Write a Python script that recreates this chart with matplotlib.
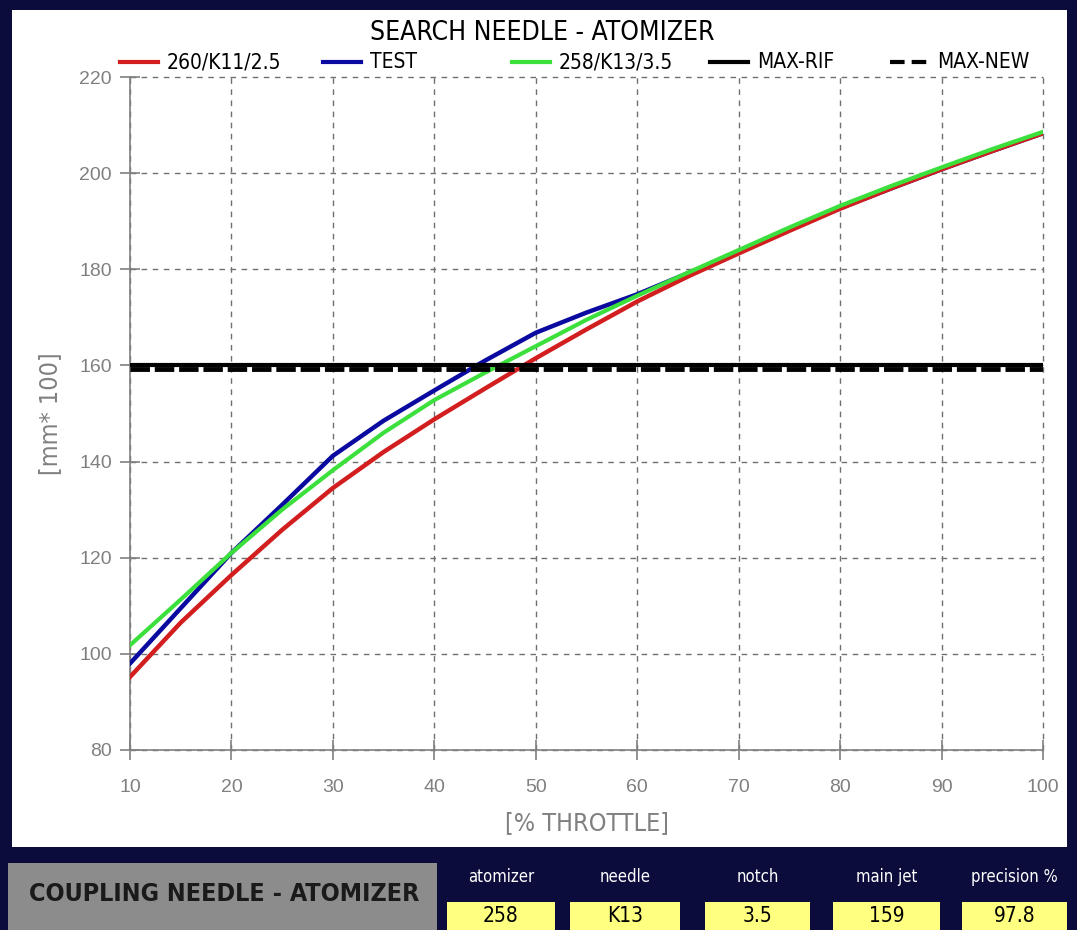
import matplotlib
matplotlib.use("Agg")
import matplotlib.pyplot as plt
from matplotlib.lines import Line2D
from matplotlib.patches import Rectangle

# --- data --------------------------------------------------------------------
throttle = [10, 15, 20, 25, 30, 35, 40, 45, 50, 55, 60, 65, 70, 75, 80, 85, 90, 95, 100]
ref_260 = [95.2, 106.5, 116.4, 125.8, 134.5, 142.0, 148.8, 155.2, 161.5, 167.5,
           173.3, 178.5, 183.3, 188.0, 192.6, 196.8, 200.8, 204.6, 208.3]
test = [98.0, 109.5, 121.0, 131.0, 141.2, 148.5, 154.8, 161.0, 166.8, 171.0,
        174.8, 179.2, 183.5, 188.2, 192.7, 196.8, 200.8, 204.6, 208.3]
new_258 = [101.8, 111.3, 121.0, 130.0, 138.2, 146.0, 152.8, 158.5, 164.0, 169.5,
           174.5, 179.3, 184.0, 188.7, 193.2, 197.3, 201.2, 205.0, 208.6]
max_rif = 160.0
max_new = 159.2

series_labels = ["260/K11/2.5", "TEST", "258/K13/3.5", "MAX-RIF", "MAX-NEW"]
table_heads = ["atomizer", "needle", "notch", "main jet", "precision %"]
table_vals = ["258", "K13", "3.5", "159", "97.8"]

xticks = list(range(10, 101, 10))
yticks = list(range(80, 221, 20))

# --- styling -----------------------------------------------------------------
NAVY = "#0b0b3c"
GRAY = "#808080"
RED, BLUE, GREEN = "#d21e1e", "#0a0aa0", "#3ce03c"
plt.rcParams["font.family"] = ["Liberation Sans", "DejaVu Sans"]
NARROW = dict(family="DejaVu Sans", fontstretch="condensed")

W, H = 1077, 930
fig = plt.figure(figsize=(W / 100, H / 100), dpi=100, facecolor=NAVY)

def fx(px): return px / W
def fy(py): return 1 - py / H

# white panel
fig.add_artist(Rectangle((fx(12), fy(847)), fx(1067) - fx(12), fy(10) - fy(847),
                         transform=fig.transFigure, facecolor="white",
                         edgecolor="none", zorder=0))

ax = fig.add_axes([fx(130), fy(750), fx(1043) - fx(130), fy(77) - fy(750)])
ax.set_facecolor("none")

ax.plot(throttle, ref_260, color=RED, lw=3.2, zorder=4)
ax.plot(throttle, test, color=BLUE, lw=3.2, zorder=3)
ax.plot(throttle, new_258, color=GREEN, lw=3.0, zorder=5)
ax.axhline(max_rif, color="black", lw=3.0, zorder=6)
ax.axhline(max_new, color="black", lw=3.5, ls=(0, (4, 1.0)), zorder=6)

ax.set_xlim(10, 100)
ax.set_ylim(80, 220)
ax.set_xticks(xticks)
ax.set_yticks(yticks)
ax.grid(True, color="#707070", ls=(0, (4, 4)), lw=1.0)
ax.set_axisbelow(True)
for g in ax.xaxis.get_gridlines() + ax.yaxis.get_gridlines():
    g.set_clip_on(False)
for s in ("top", "right"):
    ax.spines[s].set_visible(False)
for s in ("left", "bottom"):
    ax.spines[s].set_color(GRAY)
    ax.spines[s].set_linewidth(1.2)
    ax.spines[s].set_zorder(2.5)
ax.tick_params(direction="inout", length=14, color=GRAY, width=1.2,
               labelcolor=GRAY, labelsize=14)
ax.tick_params(axis="x", pad=14)
ax.tick_params(axis="y", pad=6)
ax.set_xlabel("[% THROTTLE]", color=GRAY, fontsize=18, labelpad=11, **NARROW)
ax.set_ylabel("[mm* 100]", color=GRAY, fontsize=18, labelpad=12, **NARROW)

# title
fig.text(fx(542), fy(33), "SEARCH NEEDLE - ATOMIZER", ha="center", va="center",
         fontsize=19, color="black", **NARROW)

# legend row
leg = [(120, RED, "-"), (323, BLUE, "-"), (512, GREEN, "-"),
       (710, "black", "-"), (890, "black", (0, (3.5, 1.7)))]
for (x0, col, ls), lab in zip(leg, series_labels):
    fig.add_artist(Line2D([fx(x0), fx(x0 + 38)], [fy(62), fy(62)],
                          transform=fig.transFigure, color=col, lw=3, ls=ls))
    fig.text(fx(x0 + 47), fy(62), lab, ha="left", va="center", fontsize=15,
             color="black", **NARROW)

# bottom strip
fig.add_artist(Rectangle((fx(8), fy(930)), fx(437) - fx(8), fy(863) - fy(930),
                         transform=fig.transFigure, facecolor="#8c8c8c",
                         edgecolor="none"))
fig.text(fx(224), fy(894), "COUPLING NEEDLE - ATOMIZER", ha="center",
         va="center", fontsize=18, fontweight="bold", color="#1a1a1a", **NARROW)

boxes = [(447, 555), (570, 680), (705, 810), (833, 940), (962, 1067)]
for (x0, x1), head, val in zip(boxes, table_heads, table_vals):
    xc = (x0 + x1) / 2
    fig.text(fx(xc), fy(877), head, ha="center", va="center", fontsize=12,
             color="white", **NARROW)
    fig.add_artist(Rectangle((fx(x0), fy(930)), fx(x1) - fx(x0), fy(902) - fy(930),
                             transform=fig.transFigure, facecolor="#ffff80",
                             edgecolor="none"))
    fig.text(fx(xc), fy(916), val, ha="center", va="center", fontsize=15,
             color="black", **NARROW)

fig.savefig("out.png", dpi=100, facecolor=NAVY)
